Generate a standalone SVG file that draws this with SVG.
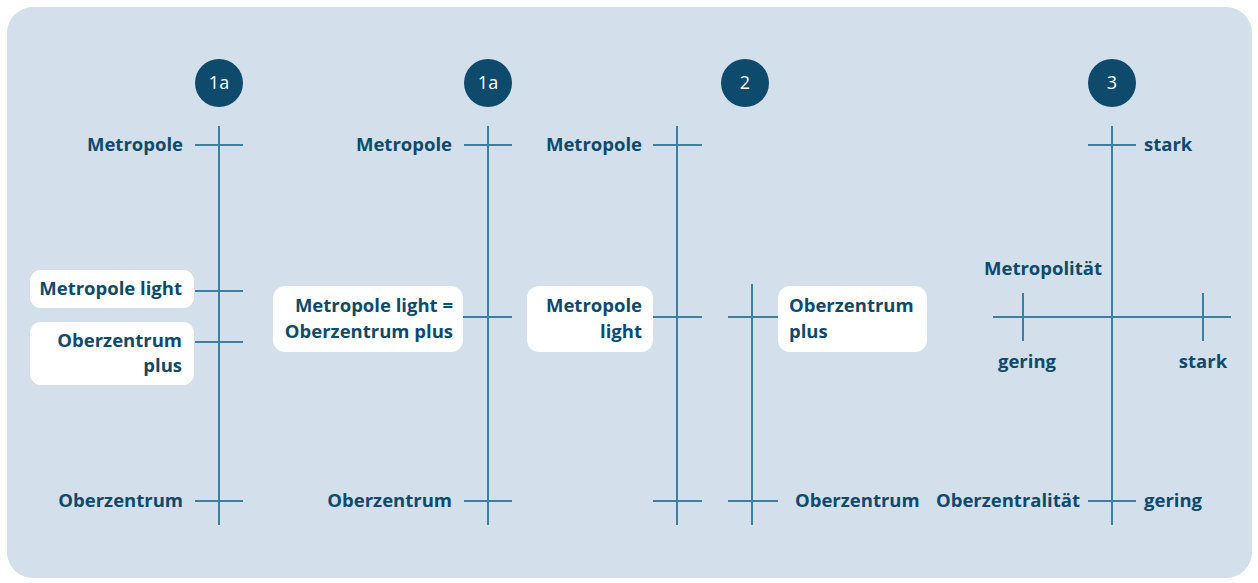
<svg xmlns="http://www.w3.org/2000/svg" width="1258" height="583" viewBox="0 0 1258 583">
<style>
.bg{fill:#d3e0eb}
.ln{stroke:#3d7fa0;stroke-width:2;fill:none}
.t{font-family:"Open Sans","Noto Sans",sans-serif;font-weight:700;font-size:18.5px;fill:#0d4a6c}
.r{text-anchor:end}
.m{text-anchor:middle}
.box{fill:#fff}
.c{fill:#0d4a6c}
.ct{font-family:"Open Sans","Noto Sans",sans-serif;font-size:18px;fill:#fff;text-anchor:middle}
</style>
<rect class="bg" x="7" y="7" width="1245" height="571" rx="26"/>
<g id="connectors">
<path class="ln" d="M219 126V525M195 145H243M195 291H243M195 342H243M195 501H243"/>
<path class="ln" d="M488 126V525M464 145H512M463 317H512M464 501H512"/>
<path class="ln" d="M677 126V525M653 145H702M653 317H702M653 501H702"/>
<path class="ln" d="M752 284V525M728 317H778M728 501H778"/>
<path class="ln" d="M1112 126V525M1088 145H1136M1088 501H1136M993 317H1231M1023 293V341M1203 293V341"/>
</g>
<g id="badge1"><circle class="c" cx="219" cy="83" r="24"/><text class="ct" x="219" y="89">1a</text></g>
<g id="badge2"><circle class="c" cx="488" cy="83" r="24"/><text class="ct" x="488" y="89">1a</text></g>
<g id="badge3"><circle class="c" cx="745" cy="83" r="24"/><text class="ct" x="745" y="89">2</text></g>
<g id="badge4"><circle class="c" cx="1112" cy="83" r="24"/><text class="ct" x="1112" y="89">3</text></g>
<g id="p1-metropole"><text class="t r" x="183" y="151">Metropole</text></g>
<g id="p1-light"><rect class="box" x="30" y="270" width="164" height="38" rx="11"/><text class="t r" x="182" y="295">Metropole light</text></g>
<g id="p1-ozplus"><rect class="box" x="30" y="322" width="164" height="63" rx="11"/><text class="t r" x="182" y="347">Oberzentrum</text><text class="t r" x="182" y="372">plus</text></g>
<g id="p1-oz"><text class="t r" x="183" y="507">Oberzentrum</text></g>
<g id="p2-metropole"><text class="t r" x="452" y="151">Metropole</text></g>
<g id="p2-eq"><rect class="box" x="273" y="286" width="190" height="66" rx="12"/><text class="t r" x="453" y="312">Metropole light =</text><text class="t r" x="453" y="338">Oberzentrum plus</text></g>
<g id="p2-oz"><text class="t r" x="452" y="507">Oberzentrum</text></g>
<g id="p3-metropole"><text class="t r" x="642" y="151">Metropole</text></g>
<g id="p3-light"><rect class="box" x="527" y="286" width="126" height="66" rx="12"/><text class="t r" x="642" y="312">Metropole</text><text class="t r" x="642" y="338">light</text></g>
<g id="p3-ozplus"><rect class="box" x="778" y="286" width="149" height="66" rx="12"/><text class="t" x="789" y="312">Oberzentrum</text><text class="t" x="789" y="338">plus</text></g>
<g id="p3-oz"><text class="t" x="795" y="507">Oberzentrum</text></g>
<g id="p4-stark-top"><text class="t" x="1144" y="151">stark</text></g>
<g id="p4-gering-bottom"><text class="t" x="1144" y="507">gering</text></g>
<g id="p4-oberzentralitaet"><text class="t r" x="1080" y="507">Oberzentralität</text></g>
<g id="p4-metropolitaet"><text class="t m" x="1043" y="275">Metropolität</text></g>
<g id="p4-gering"><text class="t m" x="1027" y="368">gering</text></g>
<g id="p4-stark"><text class="t m" x="1203" y="368">stark</text></g>
</svg>
